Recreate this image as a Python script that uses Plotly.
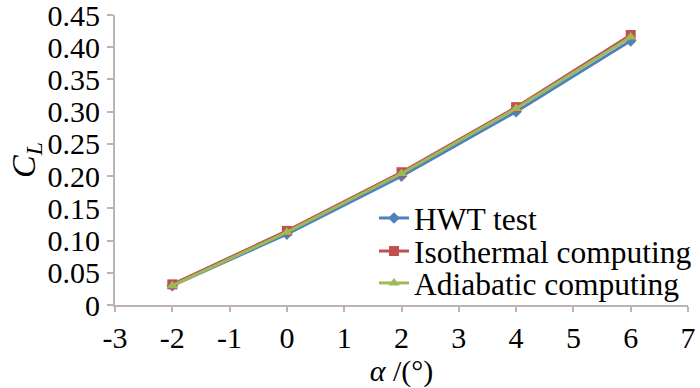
import plotly.graph_objects as go

alpha = [-2, 0, 2, 4, 6]
hwt_test = [0.030, 0.110, 0.200, 0.300, 0.410]
isothermal = [0.032, 0.115, 0.206, 0.307, 0.419]
adiabatic = [0.030, 0.113, 0.204, 0.305, 0.416]

x_ticks = [-3, -2, -1, 0, 1, 2, 3, 4, 5, 6, 7]
x_tick_labels = ["-3", "-2", "-1", "0", "1", "2", "3", "4", "5", "6", "7"]
y_ticks = [0, 0.05, 0.10, 0.15, 0.20, 0.25, 0.30, 0.35, 0.40, 0.45]
y_tick_labels = ["0", "0.05", "0.10", "0.15", "0.20", "0.25", "0.30", "0.35", "0.40", "0.45"]

FONT = "Times New Roman, Liberation Serif, serif"
AXIS_COLOR = "#bdb3b3"
FS = 30
LFS = 31.5

fig = go.Figure()
fig.add_trace(go.Scatter(x=alpha, y=hwt_test, mode="lines+markers", name="HWT test",
                         legend="legend",
                         line=dict(color="#4F81BD", width=3),
                         marker=dict(symbol="diamond", size=9, color="#4F81BD")))
fig.add_trace(go.Scatter(x=alpha, y=isothermal, mode="lines+markers", name="Isothermal computing",
                         legend="legend2",
                         line=dict(color="#C0504D", width=3),
                         marker=dict(symbol="square", size=10, color="#C0504D")))
fig.add_trace(go.Scatter(x=alpha, y=adiabatic, mode="lines+markers", name="Adiabatic computing",
                         legend="legend3",
                         line=dict(color="#9BBB59", width=3),
                         marker=dict(symbol="triangle-up", size=10, color="#9BBB59")))

leg_common = dict(x=0.452, xanchor="left", yanchor="middle", bgcolor="rgba(0,0,0,0)",
                  font=dict(family=FONT, size=LFS, color="black"), itemwidth=30)

fig.update_layout(
    width=700, height=388,
    margin=dict(l=115, r=12, t=15, b=83, autoexpand=False),
    paper_bgcolor="white", plot_bgcolor="white",
    font=dict(family=FONT, size=FS, color="black"),
    showlegend=True,
    legend=dict(y=0.300, **leg_common),
    legend2=dict(y=0.186, **leg_common),
    legend3=dict(y=0.076, **leg_common),
    xaxis=dict(range=[-3, 7], tickvals=x_ticks, ticktext=x_tick_labels, showgrid=False, zeroline=False,
               showline=True, linecolor=AXIS_COLOR, linewidth=2, automargin=False,
               ticks="outside", ticklen=5, tickcolor=AXIS_COLOR, tickwidth=2,
               ticklabeloverflow="allow",
               tickfont=dict(family=FONT, size=FS, color="black"),
               title=dict(text="<i>α</i> /(°)", font=dict(family=FONT, size=FS, color="black"), standoff=2)),
    yaxis=dict(range=[0, 0.45], tickvals=y_ticks, ticktext=y_tick_labels, showgrid=False,
               zeroline=False, showline=True, linecolor=AXIS_COLOR, linewidth=2, automargin=False,
               ticks="outside", ticklen=6, tickcolor=AXIS_COLOR, tickwidth=2,
               ticklabeloverflow="allow", ticklabelstandoff=1,
               tickfont=dict(family=FONT, size=FS, color="black"),
               title=dict(text="<i>C<sub>L</sub></i>", font=dict(family=FONT, size=34, color="black"), standoff=2)),
)

fig.write_html("out.html", config={"displayModeBar": False},
               post_script="document.body.style.margin='0px';")
